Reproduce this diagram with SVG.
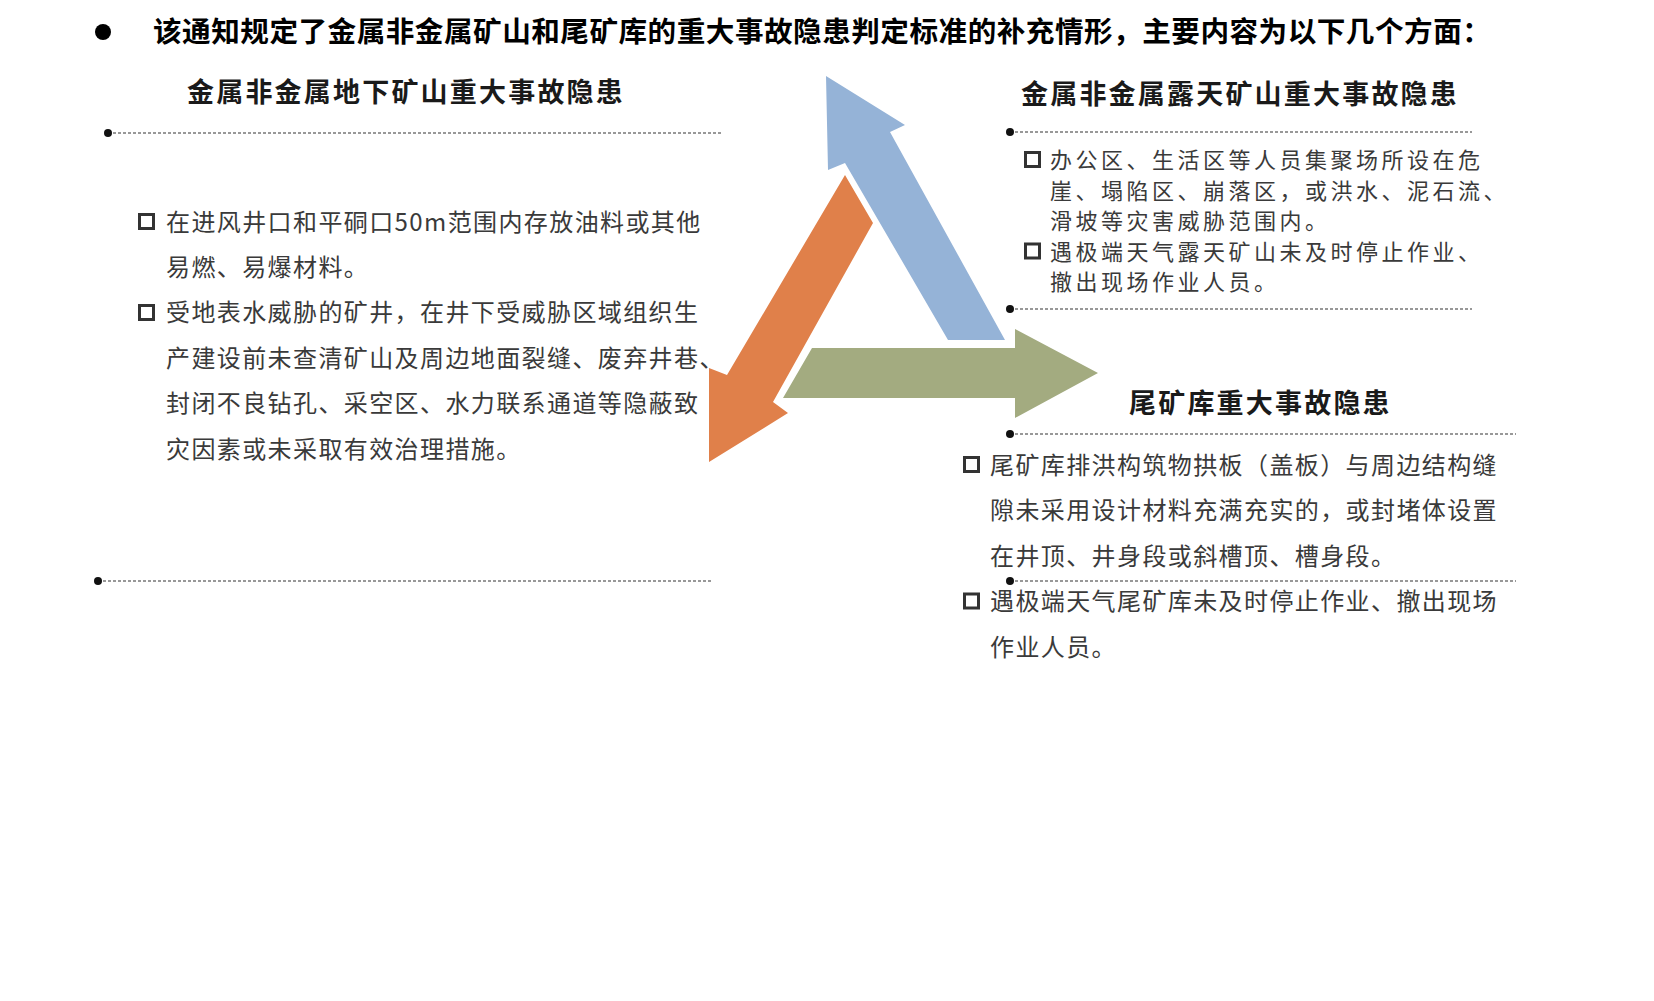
<svg xmlns="http://www.w3.org/2000/svg" width="1654" height="1001" viewBox="0 0 1654 1001">
<style>
.title{font-family:"Noto Sans CJK SC","Noto Sans",sans-serif;font-size:28.6px;font-weight:bold;fill:#000;letter-spacing:0.5px}
.head{font-family:"Noto Sans CJK SC","Noto Sans",sans-serif;font-size:27px;font-weight:bold;fill:#1a1a1a;letter-spacing:2.2px}
.body{font-family:"Noto Sans CJK SC","Noto Sans",sans-serif;font-size:24px;fill:#3a3a3a;letter-spacing:1.4px}
.tight{font-family:"Noto Sans CJK SC","Noto Sans",sans-serif;font-size:22px;fill:#3a3a3a;letter-spacing:3.5px}
.dash{stroke:#333;stroke-width:1.2;stroke-dasharray:3 2;fill:none}
.dot{fill:#111}
.box{fill:none;stroke:#333;stroke-width:3}
</style>
<rect width="1654" height="1001" fill="#fff"/>
<g id="title">
<circle cx="103" cy="32" r="8" fill="#000"/>
<text class="title" x="153" y="42">该通知规定了金属非金属矿山和尾矿库的重大事故隐患判定标准的补充情形，主要内容为以下几个方面：</text>
</g>
<g id="connectors">
<polygon points="826,76 905,125 890,132 1005,340 948,340 845,163 828,170" fill="#95B3D7"/>
<polygon points="709,462 788,413 773,402 873,223 845,175 727,375 709,368" fill="#E0804A"/>
<polygon points="812,348 1015,348 1015,329 1098,373 1015,418 1015,398 783,398" fill="#A3AB80"/>
</g>
<g id="underground">
<text class="head" x="187" y="102">金属非金属地下矿山重大事故隐患</text>
<line class="dash" x1="108" y1="133" x2="723" y2="133"/>
<circle class="dot" cx="108" cy="133" r="4"/>
<rect class="box" x="139.5" y="214.5" width="14" height="14"/>
<text class="body" x="166" y="230.6">在进风井口和平硐口50m范围内存放油料或其他</text>
<text class="body" x="166" y="276">易燃、易爆材料。</text>
<rect class="box" x="139.5" y="305.5" width="14" height="14"/>
<text class="body" x="166" y="321.4">受地表水威胁的矿井，在井下受威胁区域组织生</text>
<text class="body" x="166" y="366.8">产建设前未查清矿山及周边地面裂缝、废弃井巷、</text>
<text class="body" x="166" y="412.2">封闭不良钻孔、采空区、水力联系通道等隐蔽致</text>
<text class="body" x="166" y="457.6">灾因素或未采取有效治理措施。</text>
<line class="dash" x1="98" y1="581" x2="713" y2="581"/>
<circle class="dot" cx="98" cy="581" r="4"/>
</g>
<g id="openpit">
<text class="head" x="1021" y="104">金属非金属露天矿山重大事故隐患</text>
<line class="dash" x1="1010" y1="132" x2="1472" y2="132"/>
<circle class="dot" cx="1010" cy="132" r="4"/>
<rect class="box" x="1025.5" y="152.5" width="14" height="14"/>
<text class="tight" x="1050" y="168">办公区、生活区等人员集聚场所设在危</text>
<text class="tight" x="1050" y="198.5">崖、塌陷区、崩落区，或洪水、泥石流、</text>
<text class="tight" x="1050" y="229">滑坡等灾害威胁范围内。</text>
<rect class="box" x="1025.5" y="244" width="14" height="14"/>
<text class="tight" x="1050" y="259.5">遇极端天气露天矿山未及时停止作业、</text>
<text class="tight" x="1050" y="290">撤出现场作业人员。</text>
<line class="dash" x1="1010" y1="309" x2="1472" y2="309"/>
<circle class="dot" cx="1010" cy="309" r="4"/>
</g>
<g id="tailings">
<text class="head" x="1129" y="413">尾矿库重大事故隐患</text>
<line class="dash" x1="1010" y1="434" x2="1516" y2="434"/>
<circle class="dot" cx="1010" cy="434" r="4"/>
<rect class="box" x="964.5" y="457.5" width="14" height="14"/>
<text class="body" x="990" y="473.6">尾矿库排洪构筑物拱板（盖板）与周边结构缝</text>
<text class="body" x="990" y="519.1">隙未采用设计材料充满充实的，或封堵体设置</text>
<text class="body" x="990" y="564.6">在井顶、井身段或斜槽顶、槽身段。</text>
<line class="dash" x1="1010" y1="581" x2="1516" y2="581"/>
<circle class="dot" cx="1010" cy="581" r="4"/>
<rect class="box" x="964.5" y="594" width="14" height="14"/>
<text class="body" x="990" y="610.1">遇极端天气尾矿库未及时停止作业、撤出现场</text>
<text class="body" x="990" y="655.6">作业人员。</text>
</g>
</svg>
